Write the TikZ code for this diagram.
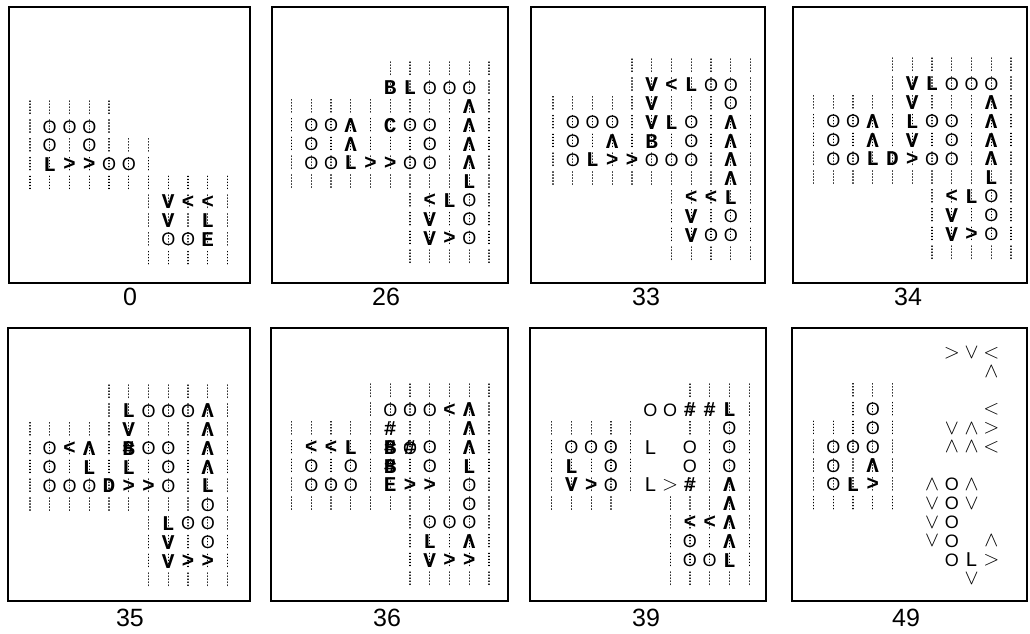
\RequirePackage{fix-cm}
\documentclass[tikz,border=0pt]{standalone}
\usepackage{fontspec}
\newfontfamily\lblfont{Liberation Sans}
\newfontfamily\cellfont{Liberation Mono}
\newcommand\cfont{\cellfont\fontsize{21}{24}\selectfont}
\newcommand\ofont{\lblfont\fontsize{18}{20}\selectfont}
\newcommand\ovl[2]{\makebox[0pt]{#1}\makebox[0pt]{#2}}
\tikzset{
  x=1pt,y=-1pt,
  fr/.style={draw,line width=1.8pt},
  lb/.style={font=\lblfont\fontsize{25}{28}\selectfont,inner sep=0pt},
  cl/.style={inner sep=0pt,minimum width=19pt,minimum height=18pt},
  dts/.style={path picture={\draw[line width=1.2pt,line cap=round,dash pattern=on 0.4pt off 2.6pt]
    ([yshift=7pt]path picture bounding box.center)--([yshift=-7pt]path picture bounding box.center);}},
}
% a cell token: its style (dots or none) and its glyph
\newcommand\defcell[3]{\tikzset{s#1/.style={#2}}\expandafter\def\csname glyph#1\endcsname{#3}}
\defcell{-}{}{} \defcell{d}{dts}{}
\defcell{O}{dts}{\ofont O} \defcell{L}{dts}{\bfseries L} \defcell{B}{dts}{\bfseries B}
\defcell{C}{dts}{\bfseries C} \defcell{D}{dts}{\bfseries D} \defcell{E}{dts}{\bfseries E}
\defcell{V}{dts}{\bfseries V} \defcell{A}{dts}{\bfseries Λ}
\defcell{<}{dts}{\lblfont\bfseries <} \defcell{>}{dts}{\lblfont\bfseries >}
\defcell{X}{dts}{\bfseries\#}
\defcell{BX}{dts}{\bfseries\ovl{B}{\#}} \defcell{OX}{dts}{\ovl{\ofont O}{\bfseries\#}}
\defcell{Q}{dts}{\ovl{\ofont O}{\scriptsize *}}
% cells outside the region, no dots
\defcell{o}{}{\ofont O} \defcell{l}{}{L} \defcell{g}{}{$>$} \defcell{k}{}{$<$}
\defcell{a}{}{$\wedge$} \defcell{v}{}{$\vee$}
\newcommand\cellgrid[4]{%
  \foreach \rw [count=\ry from 0] in {#4}
    \foreach \tok [count=\cx from 0] in \rw
      \node[cl,s\tok] (#1-\ry-\cx) at (#2+\cx*19.75,#3+\ry*18.8) {\cfont\csname glyph\tok\endcsname};
}
\begin{document}
\begin{tikzpicture}
\useasboundingbox (0,0) rectangle (1030,633);
% frames and step numbers
\draw[fr] (9,7) rectangle (250,283); \draw[fr] (272,7) rectangle (508,283);
\draw[fr] (531,7) rectangle (765,283); \draw[fr] (793,7) rectangle (1027,283);
\draw[fr] (8,328) rectangle (250,601); \draw[fr] (271,328) rectangle (508,601);
\draw[fr] (530,328) rectangle (766,601); \draw[fr] (792,328) rectangle (1027,601);
\node[lb] (n0) at (130,297){0}; \node[lb] (n26) at (386,297){26};
\node[lb] (n33) at (646,297){33}; \node[lb] (n34) at (908,297){34};
\node[lb] (n35) at (130,618){35}; \node[lb] (n36) at (387,618){36};
\node[lb] (n39) at (646,618){39}; \node[lb] (n49) at (906,618){49};
% step 0
\cellgrid{a}{30}{108}{{d,d,d,d,d},{d,O,O,O,d},{d,O,d,O,d,d,d},{d,L,>,>,O,O,d},
  {d,d,d,d,d,d,d,d,d,d,d},{-,-,-,-,-,-,d,V,<,<,d},{-,-,-,-,-,-,d,V,d,L,d},
  {-,-,-,-,-,-,d,O,O,E,d},{-,-,-,-,-,-,d,d,d,d,d}}
% step 26
\cellgrid{b}{291.5}{69}{{-,-,-,-,-,d,d,d,d,d,d},{-,-,-,-,-,B,L,O,O,O,d},{d,d,d,d,d,d,d,d,d,A,d},
  {d,O,O,A,d,C,O,O,d,A,d},{d,O,d,A,d,d,d,O,d,A,d},{d,O,O,L,>,>,O,O,d,A,d},
  {d,d,d,d,d,d,d,d,d,L,d},{-,-,-,-,-,-,d,<,L,O,d},{-,-,-,-,-,-,d,V,d,O,d},
  {-,-,-,-,-,-,d,V,>,O,d},{-,-,-,-,-,-,d,d,d,d,d}}
% step 33
\cellgrid{c}{553}{66}{{-,-,-,-,d,d,d,d,d,d,d},{-,-,-,-,d,V,<,L,O,O,d},{d,d,d,d,d,V,d,d,d,O,d},
  {d,O,O,O,d,V,L,O,d,A,d},{d,O,d,A,d,B,d,O,d,A,d},{d,O,L,>,>,O,O,O,d,A,d},
  {d,d,d,d,d,d,d,d,d,A,d},{-,-,-,-,-,-,d,<,<,L,d},{-,-,-,-,-,-,d,V,d,O,d},
  {-,-,-,-,-,-,d,V,O,O,d},{-,-,-,-,-,-,d,d,d,d,d}}
% step 34
\cellgrid{e}{813.5}{65}{{-,-,-,-,d,d,d,d,d,d,d},{-,-,-,-,d,V,L,O,O,O,d},{d,d,d,d,d,V,d,d,d,A,d},
  {d,O,O,A,d,L,O,O,d,A,d},{d,O,d,A,d,V,d,O,d,A,d},{d,O,O,L,D,>,O,O,d,A,d},
  {d,d,d,d,d,d,d,d,d,L,d},{-,-,-,-,-,-,d,<,L,O,d},{-,-,-,-,-,-,d,V,d,O,d},
  {-,-,-,-,-,-,d,V,>,O,d},{-,-,-,-,-,-,d,d,d,d,d}}
% step 35
\cellgrid{f}{30}{392}{{-,-,-,-,d,d,d,d,d,d,d},{-,-,-,-,d,L,O,O,O,A,d},{d,d,d,d,d,V,d,d,d,A,d},
  {d,O,<,A,d,BX,O,O,d,A,d},{d,O,d,L,d,L,d,O,d,A,d},{d,O,O,Q,D,>,>,O,d,L,d},
  {d,d,d,d,d,d,d,d,d,O,d},{-,-,-,-,-,-,d,L,O,O,d},{-,-,-,-,-,-,d,V,d,O,d},
  {-,-,-,-,-,-,d,V,>,>,d},{-,-,-,-,-,-,d,d,d,d,d}}
% step 36
\cellgrid{g}{291.5}{391}{{-,-,-,-,d,d,d,d,d,d,d},{-,-,-,-,d,O,O,O,<,A,d},{d,d,d,d,d,X,d,d,d,A,d},
  {d,<,<,L,d,BX,OX,O,d,A,d},{d,O,d,O,d,BX,d,O,d,L,d},{d,O,O,O,d,E,>,>,d,O,d},
  {d,d,d,d,d,d,d,d,d,O,d},{-,-,-,-,-,-,d,O,O,O,d},{-,-,-,-,-,-,d,L,d,A,d},
  {-,-,-,-,-,-,d,V,>,>,d},{-,-,-,-,-,-,d,d,d,d,d}}
% step 39
\cellgrid{h}{551.7}{391}{{-,-,-,-,-,-,-,d,d,d,d},{-,-,-,-,-,o,o,X,X,L,d},{d,d,d,d,d,-,-,d,d,O,d},
  {d,O,O,O,d,l,-,o,d,O,d},{d,L,d,O,d,-,-,o,d,O,d},{d,V,>,Q,d,l,g,X,d,A,d},
  {d,d,d,d,-,-,d,d,d,A,d},{-,-,-,-,-,-,d,<,<,A,d},{-,-,-,-,-,-,d,O,d,A,d},
  {-,-,-,-,-,-,d,O,O,L,d},{-,-,-,-,-,-,d,d,d,d,d}}
% step 49
\cellgrid{i}{813.5}{353}{{-,-,-,-,-,-,-,g,v,k},{-,-,-,-,-,-,-,-,-,a},{-,-,d,d,d},
  {-,-,d,O,d,-,-,-,-,k},{d,d,d,O,d,-,-,v,a,g},{d,O,O,O,d,-,-,a,a,k},{d,O,d,A,d},
  {d,O,L,>,d,-,a,o,a},{d,d,d,d,d,-,v,o,v},{-,-,-,-,-,-,v,o},{-,-,-,-,-,-,v,o,-,a},
  {-,-,-,-,-,-,-,o,l,g},{-,-,-,-,-,-,-,-,v}}
\end{tikzpicture}
\end{document}
